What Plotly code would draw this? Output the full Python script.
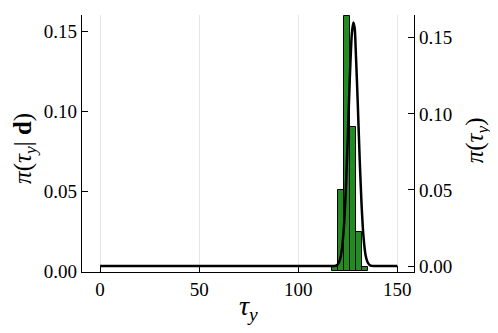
import plotly.graph_objects as go

# posterior histogram (pdf-normalised), bin width 3
bin_centers = [118.5, 121.5, 124.5, 127.5, 130.5, 133.5]
bin_heights = [0.0023, 0.051, 0.160, 0.0906, 0.0246, 0.0023]

# prior density curve
curve_x = [0, 50, 100, 117, 118, 119, 120, 121, 122, 123, 124, 125, 126, 127, 127.8,
           128.5, 129, 130, 131, 132, 133, 134, 135, 136, 137, 138, 150]
curve_y = [0.0, 0.0, 0.0, 0.0, 0.0001, 0.0003, 0.0012, 0.004, 0.011, 0.025, 0.050, 0.085,
           0.123, 0.152, 0.160, 0.156, 0.142, 0.108, 0.070, 0.039, 0.018, 0.007, 0.0025,
           0.0007, 0.0001, 0.0, 0.0]

x_ticks = [0, 50, 100, 150]
y_ticks = [0.0, 0.05, 0.10, 0.15]

FONT = "Liberation Serif"

fig = go.Figure()

fig.add_trace(go.Bar(
    x=bin_centers, y=bin_heights, width=3,
    marker=dict(color="#228B22", line=dict(color="black", width=1)),
    yaxis="y",
))

fig.add_trace(go.Scatter(
    x=curve_x, y=curve_y, mode="lines",
    line=dict(color="black", width=2.5, shape="spline", smoothing=0.6),
    yaxis="y2",
))

axis_common = dict(
    showline=True, linecolor="black", linewidth=1.2,
    ticks="inside", tickcolor="black", ticklen=6, tickwidth=1,
    tickfont=dict(family=FONT, size=19, color="black"),
    zeroline=False, automargin=False,
)

# the page body adds an 8px offset, so the figure is 8px smaller than the window
fig.update_layout(
    width=490, height=325,
    margin=dict(l=74, r=84, t=7, b=61),
    plot_bgcolor="white", paper_bgcolor="white",
    showlegend=False,
    bargap=0,
    xaxis=dict(
        **axis_common,
        range=[-9.1, 158.4],
        tickvals=x_ticks, ticktext=[str(v) for v in x_ticks],
        showgrid=True, gridcolor="rgba(0,0,0,0.1)", gridwidth=1,
    ),
    yaxis=dict(
        **axis_common,
        range=[-0.0006, 0.1605],
        tickvals=y_ticks, tickformat=".2f",
        showgrid=False,
    ),
    yaxis2=dict(
        **axis_common,
        overlaying="y", side="right",
        range=[-0.0039, 0.165],
        tickvals=y_ticks, tickformat=".2f",
        showgrid=False,
    ),
)

fig.add_annotation(
    text="<i>τ</i><sub><i>y</i></sub>", xref="paper", yref="paper",
    x=0.5, y=-0.14, xanchor="center", yanchor="middle",
    showarrow=False, font=dict(family=FONT, size=28, color="black"),
)
fig.add_annotation(
    text="<i>π</i>(<i>τ</i><sub><i>y</i></sub>| <b>d</b>)", xref="paper", yref="paper",
    x=-0.172, y=0.4825, xanchor="center", yanchor="middle", textangle=-90,
    showarrow=False, font=dict(family=FONT, size=25, color="black"),
)
fig.add_annotation(
    text="<i>π</i>(<i>τ</i><sub><i>y</i></sub>)", xref="paper", yref="paper",
    x=1.188, y=0.514, xanchor="center", yanchor="middle", textangle=-90,
    showarrow=False, font=dict(family=FONT, size=25, color="black"),
)

fig.write_html("out.html")
